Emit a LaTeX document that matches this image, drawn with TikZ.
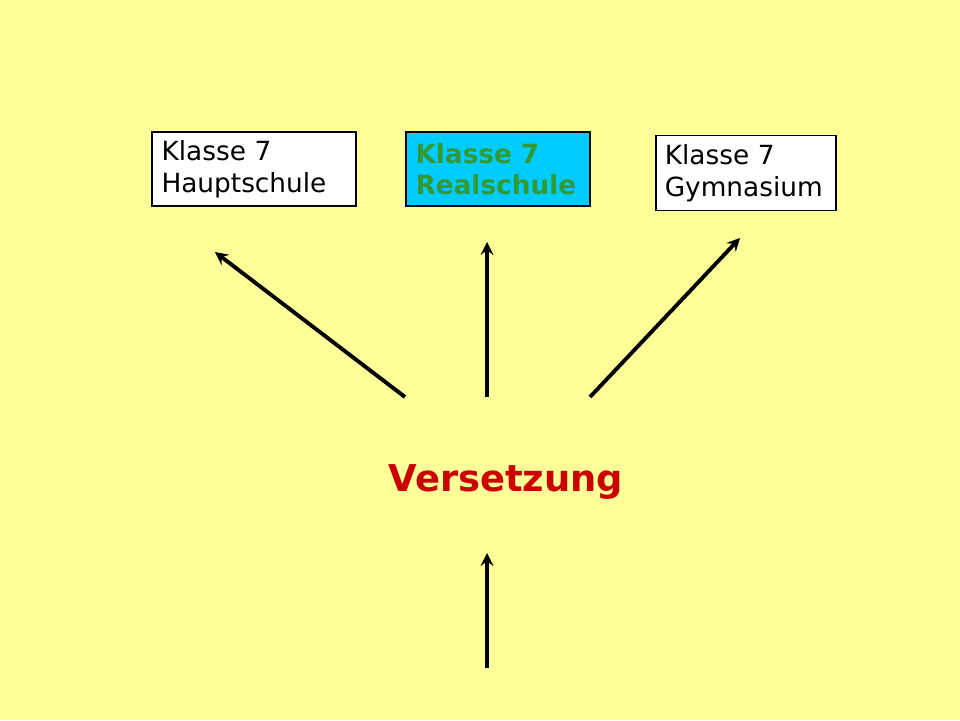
\documentclass[tikz,border=0pt]{standalone}
\usepackage{fontspec}
\setmainfont{DejaVu Sans}
\definecolor{bgyellow}{HTML}{FFFF99}
\definecolor{boxcyan}{HTML}{00CCFF}
\definecolor{txtgreen}{HTML}{339933}
\definecolor{txtred}{HTML}{CC0000}
\tikzset{
  klassbox/.style={draw=black,line width=0.6pt,fill=white,inner sep=0pt,
    text width=#1,align=left,font=\fontsize{15}{18}\selectfont},
  jump/.style={->,line width=2.2pt,>=stealth}
}
\begin{document}
\begin{tikzpicture}[x=0.02cm,y=-0.02cm]
        %%% Background %%%
        \fill[bgyellow] (0,0) rectangle (960,720);
        \useasboundingbox (0,0) rectangle (960,720);

        %%% Boxes %%%
        \node[klassbox=3.7cm,minimum width=4.08cm,minimum height=1.48cm] (haupt) at (254,169) {Klasse 7\\Hauptschule};
        \node[klassbox=3.3cm,minimum width=3.68cm,minimum height=1.48cm,fill=boxcyan,text=txtgreen,font=\fontsize{15}{18}\selectfont\bfseries] (real) at (498,169) {Klasse 7\\Realschule};
        \node[klassbox=3.25cm,minimum width=3.6cm,minimum height=1.5cm] (gym) at (746,173) {Klasse 7\\Gymnasium};

        %%% Versetzung %%%
        \node[text=txtred,font=\fontsize{21}{25}\selectfont\bfseries] (vers) at (506,482) {Versetzung};

        %%% Arrows %%%
        \coordinate (a1) at (405,397); \coordinate (b1) at (215,252);
        \coordinate (a2) at (487,397); \coordinate (b2) at (487,242);
        \coordinate (a3) at (590,397); \coordinate (b3) at (740,238);
        \coordinate (a4) at (487,668); \coordinate (b4) at (487,553);
        \foreach \i in {1,...,4}
          \draw[jump] (a\i)--(b\i);
    \end{tikzpicture}
\end{document}
